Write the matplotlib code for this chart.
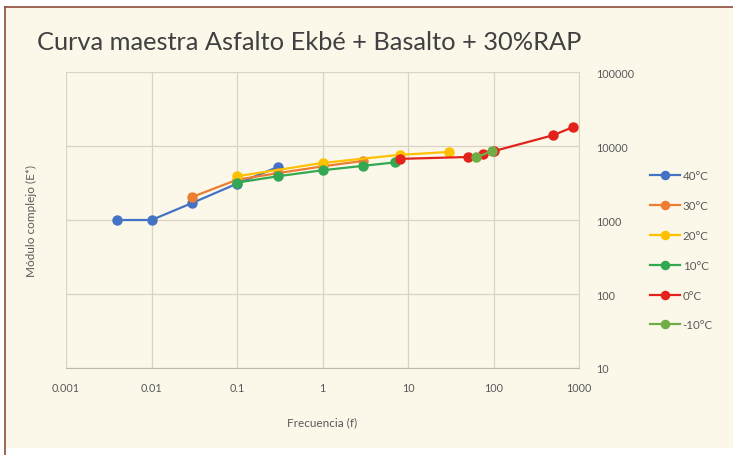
import matplotlib.pyplot as plt
from matplotlib.patches import Rectangle
from matplotlib.lines import Line2D
from matplotlib.ticker import FixedLocator, FixedFormatter, NullLocator

plt.rcParams['font.family'] = ['Lato', 'DejaVu Sans']

labels = ['40°C', '30°C', '20°C', '10°C', '0°C', '-10°C']
colors = ['#4472C4', '#ED7D31', '#FFC000', '#33A852', '#E3231B', '#70AD47']

f_40 = [0.004, 0.01, 0.03, 0.1, 0.3]
e_40 = [1000, 1000, 1700, 3100, 5200]
f_30 = [0.03, 0.1, 0.3, 1, 3]
e_30 = [2050, 3500, 4300, 5300, 6300]
f_20 = [0.1, 1, 8, 30]
e_20 = [3900, 5900, 7600, 8300]
f_10 = [0.1, 0.3, 1, 3, 7]
e_10 = [3200, 3900, 4700, 5400, 6000]
f_0 = [8, 50, 75, 100, 500, 850]
e_0 = [6700, 7100, 7800, 8500, 14000, 18000]
f_m10 = [62, 97]
e_m10 = [7000, 8600]

x_ticks = [0.001, 0.01, 0.1, 1, 10, 100, 1000]
x_tick_labels = ['0.001', '0.01', '0.1', '1', '10', '100', '1000']
y_ticks = [10, 100, 1000, 10000, 100000]
y_tick_labels = ['10', '100', '1000', '10000', '100000']

cream = '#FBF8E9'
grid_col = '#DAD5C2'
txt = '#595959'

fig = plt.figure(figsize=(7.33, 4.56), dpi=100, facecolor='white')
W, H = 733, 456
fig.patches.append(Rectangle((5 / W, 1 - 449 / H), 1, (449 - 8) / H, transform=fig.transFigure,
                             facecolor=cream, edgecolor='none', zorder=-10))
fig.lines.append(Line2D([5 / W, 1], [1 - 8 / H, 1 - 8 / H], transform=fig.transFigure,
                        color='#8C4B3B', lw=1.2, zorder=-5))
fig.lines.append(Line2D([5 / W, 5 / W], [0, 1 - 8 / H], transform=fig.transFigure,
                        color='#8C4B3B', lw=1.2, zorder=-5))

ax = fig.add_axes([66 / W, 1 - 369 / H, (579 - 66) / W, (369 - 73) / H])
ax.set_facecolor(cream)

series = [(f_40, e_40), (f_30, e_30), (f_20, e_20), (f_10, e_10), (f_0, e_0), (f_m10, e_m10)]
for (f, e), lab, c in zip(series, labels, colors):
    ax.plot(f, e, color=c, lw=1.6, marker='o', markersize=6.5, label=lab)

ax.set_xscale('log')
ax.set_yscale('log')
ax.set_xlim(0.001, 1000)
ax.set_ylim(10, 100000)
ax.xaxis.set_major_locator(FixedLocator(x_ticks))
ax.xaxis.set_major_formatter(FixedFormatter(x_tick_labels))
ax.yaxis.set_major_locator(FixedLocator(y_ticks))
ax.yaxis.set_major_formatter(FixedFormatter(y_tick_labels))
ax.xaxis.set_minor_locator(NullLocator())
ax.yaxis.set_minor_locator(NullLocator())
ax.yaxis.tick_right()
ax.tick_params(axis='both', length=0, labelsize=7.8, colors=txt)
ax.tick_params(axis='x', pad=10)
ax.tick_params(axis='y', pad=12)
ax.grid(True, color=grid_col, lw=0.9)
for s in ['top', 'left']:
    ax.spines[s].set_visible(False)
ax.spines['bottom'].set_color('#BFBAA8')
ax.spines['right'].set_color(grid_col)

ax.set_xlabel('Frecuencia (f)', fontsize=8.5, color=txt, labelpad=17)
fig.text(31 / W, 1 - 221 / H, 'Módulo complejo (E*)', rotation=90, fontsize=8.5,
         color=txt, ha='center', va='center')

fig.text(37 / W, 1 - 42 / H, 'Curva maestra Asfalto Ekbé + Basalto + 30%RAP',
         fontsize=18.3, color='#404040', ha='left', va='center')

fig.legend(loc='upper left', bbox_to_anchor=(640 / W, 1 - 161 / H), frameon=False,
           fontsize=8.3, labelcolor=txt, handlelength=2.6, handletextpad=0.2,
           labelspacing=1.63, markerscale=0.9)

fig.savefig('out.png', dpi=100, facecolor='white')
